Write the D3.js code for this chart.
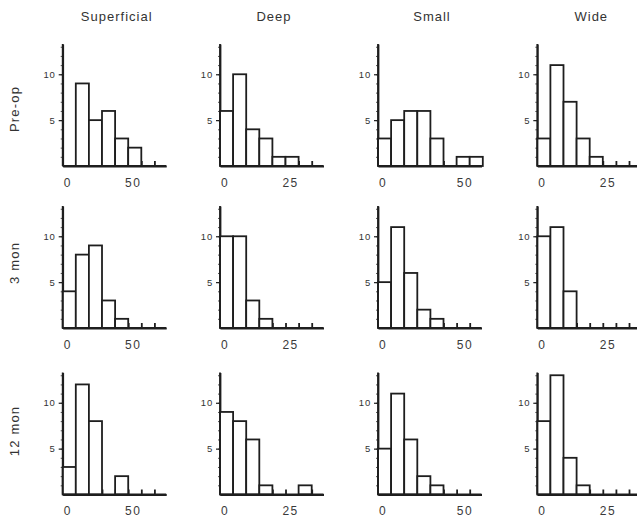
<!DOCTYPE html>
<html><head><meta charset="utf-8">
<script src="https://cdn.jsdelivr.net/npm/d3@7"></script>
<style>
body{margin:0;background:#fff;}
svg{display:block;font-family:"Liberation Sans",Arial,sans-serif;}
</style></head>
<body><svg id="c" width="637" height="520"></svg>
<script>
// ---- data ----
const columns = ["Superficial", "Deep", "Small", "Wide"];
const rowsLab = ["Pre-op", "3 mon", "12 mon"];
const binWidths = [10, 5, 8, 5];
const xTickLabels = [[0, 50], [0, 25], [0, 50], [0, 25]];
const yTickLabels = [5, 10];
// counts per bin (rows: Pre-op, 3 mon, 12 mon)
const superficial = [[0, 9, 5, 6, 3, 2, 0, 0], [4, 8, 9, 3, 1, 0, 0, 0], [3, 12, 8, 0, 2, 0, 0, 0]];
const deep        = [[6, 10, 4, 3, 1, 1, 0, 0], [10, 10, 3, 1, 0, 0, 0, 0], [9, 8, 6, 1, 0, 0, 1, 0]];
const small       = [[3, 5, 6, 6, 3, 0, 1, 1], [5, 11, 6, 2, 1, 0, 0, 0], [5, 11, 6, 2, 1, 0, 0, 0]];
const wide        = [[3, 11, 7, 3, 1, 0, 0, 0], [10, 11, 4, 0, 0, 0, 0, 0], [8, 13, 4, 1, 0, 0, 0, 0]];
const seriesByCol = [superficial, deep, small, wide];

// ---- layout ----
const svg = d3.select("#c");
const colX = [62.7, 220, 378, 537.3];
const rowBase = [166, 328, 494.5];
const panelW = 103.5, panelH = 122;
const yMax = 13.3, nBinsSpan = 7.9;
const ink = "#1e1e1e";
const sw = 1.8;

columns.forEach((cName, ci) => {
  svg.append("text").attr("x", colX[ci] + 54).attr("y", 21)
    .attr("text-anchor", "middle").attr("font-size", 13).attr("letter-spacing", "1px")
    .attr("fill", "#333").text(cName);
});
rowsLab.forEach((rName, ri) => {
  const cy = [109, 263, 431][ri];
  svg.append("text").attr("transform", `translate(19,${cy}) rotate(-90)`)
    .attr("text-anchor", "middle").attr("font-size", 13).attr("letter-spacing", "1.2px")
    .attr("fill", "#333").text(rName);
});

columns.forEach((cName, ci) => {
  const bw = binWidths[ci];
  const start = -0.35 * bw;
  const x = d3.scaleLinear().domain([start, start + nBinsSpan * bw]).range([0, panelW]);
  rowsLab.forEach((rName, ri) => {
    const counts = seriesByCol[ci][ri];
    const y = d3.scaleLinear().domain([0, yMax]).range([panelH, 0]);
    const g = svg.append("g").attr("transform", `translate(${colX[ci]},${rowBase[ri] - panelH})`);

    // x axis with bin-edge ticks pointing up
    const edges = d3.range(1, 8).map(k => start + k * bw);
    const xa = g.append("g").attr("transform", `translate(0,${panelH})`)
      .call(d3.axisBottom(x).tickValues(edges).tickSize(-5).tickSizeOuter(0).tickFormat(""));
    xa.selectAll("path,line").attr("stroke", ink).attr("stroke-width", sw);

    // x tick labels
    const xl = g.append("g").attr("transform", `translate(0,${panelH})`)
      .call(d3.axisBottom(x).tickValues(xTickLabels[ci]).tickSize(0).tickPadding(12));
    xl.select(".domain").remove();
    xl.selectAll("text").attr("font-size", 12).attr("letter-spacing", "1.5px")
      .attr("fill", "#3a3a3a").attr("font-family", "Liberation Sans, Arial, sans-serif");

    // y axis minor ticks
    const ym = g.append("g")
      .call(d3.axisLeft(y).tickValues(d3.range(1, 14)).tickSize(2).tickSizeOuter(0).tickFormat(""));
    ym.selectAll("path").attr("stroke", ink).attr("stroke-width", sw);
    ym.selectAll("line").attr("stroke", "#555").attr("stroke-width", 1);
    // y major ticks with labels
    const yM = g.append("g")
      .call(d3.axisLeft(y).tickValues(yTickLabels).tickSize(4).tickPadding(3).tickSizeOuter(0));
    yM.select(".domain").remove();
    yM.selectAll("line").attr("stroke", ink).attr("stroke-width", 1.2);
    yM.selectAll("text").attr("font-size", 9.5).attr("letter-spacing", "0.8px")
      .attr("fill", "#333").attr("font-family", "Liberation Sans, Arial, sans-serif");

    // bars
    const bars = counts.map((v, i) => ({v, x0: start + i * bw, x1: start + (i + 1) * bw})).filter(d => d.v > 0);
    g.selectAll("rect.bar").data(bars).enter().append("rect").attr("class", "bar")
      .attr("x", d => x(d.x0)).attr("width", d => x(d.x1) - x(d.x0))
      .attr("y", d => y(d.v)).attr("height", d => y(0) - y(d.v))
      .attr("fill", "#fff").attr("stroke", ink).attr("stroke-width", sw);
    // redraw axis lines on top
    g.append("line").attr("x1", 0).attr("x2", panelW).attr("y1", panelH).attr("y2", panelH)
      .attr("stroke", ink).attr("stroke-width", sw);
    g.append("line").attr("x1", 0).attr("x2", 0).attr("y1", 0).attr("y2", panelH)
      .attr("stroke", ink).attr("stroke-width", sw);
  });
});
</script></body></html>
